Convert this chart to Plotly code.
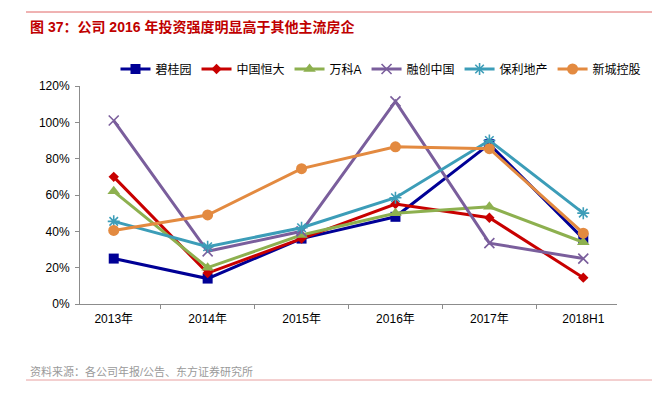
import plotly.graph_objects as go

categories = ["2013年", "2014年", "2015年", "2016年", "2017年", "2018H1"]
bgy = [0.25, 0.14, 0.36, 0.48, 0.88, 0.36]
evergrande = [0.70, 0.17, 0.36, 0.55, 0.475, 0.145]
vanke = [0.62, 0.20, 0.38, 0.50, 0.535, 0.34]
sunac = [1.01, 0.29, 0.40, 1.115, 0.335, 0.25]
poly = [0.455, 0.315, 0.42, 0.585, 0.90, 0.50]
seazen = [0.405, 0.49, 0.745, 0.865, 0.855, 0.39]
y_ticks = [0, 0.2, 0.4, 0.6, 0.8, 1.0, 1.2]

series = [
    ("碧桂园", bgy, "#000096", "square", 10, 0),
    ("中国恒大", evergrande, "#C80000", "diamond", 8, 0),
    ("万科A", vanke, "#8DB04F", "triangle-up", 11, 0),
    ("融创中国", sunac, "#7A5E9C", "x-thin-open", 10, 1.6),
    ("保利地产", poly, "#3C9DB8", "asterisk-open", 10, 1.6),
    ("新城控股", seazen, "#E38A40", "circle", 11, 0),
]

fig = go.Figure()
for name, vals, color, sym, size, lw in series:
    marker = dict(symbol=sym, size=size, color=color)
    if lw:
        marker["line"] = dict(color=color, width=lw)
    fig.add_trace(go.Scatter(
        x=categories, y=vals, name=name, mode="lines+markers",
        line=dict(color=color, width=3), marker=marker,
    ))

L, T, W, H = 80, 86, 537, 218
def px(x):
    return (x - L) / W
def py(y):
    return 1 - (y - T) / H

font_family = "Liberation Sans, Arial, Noto Sans CJK SC, sans-serif"
fig.update_layout(
    width=652, height=398,
    margin=dict(l=L, r=652 - L - W, t=T, b=398 - T - H, autoexpand=False),
    paper_bgcolor="white", plot_bgcolor="white",
    font=dict(family=font_family, size=12, color="#000000"),
    showlegend=True,
    legend=dict(orientation="h", x=px(381), xanchor="center", y=py(69), yanchor="middle",
                font=dict(size=12), itemwidth=30, tracegroupgap=0),
    xaxis=dict(showline=True, linecolor="#8c8c8c", linewidth=1,
               ticks="outside", ticklen=4, tickcolor="#8c8c8c",
               showgrid=False, tickson="boundaries", zeroline=False,
               ticklabelstandoff=4, tickfont=dict(size=12)),
    yaxis=dict(range=[0, 1.2], tickvals=y_ticks, tickformat=".0%",
               showline=True, linecolor="#8c8c8c", linewidth=1,
               ticks="outside", ticklen=4, tickcolor="#8c8c8c",
               showgrid=False, zeroline=False, ticklabelstandoff=3,
               tickfont=dict(size=12)),
    shapes=[
        dict(type="line", xref="paper", yref="paper", x0=px(26), x1=px(652),
             y0=py(12), y1=py(12), line=dict(color="#E06666", width=1)),
        dict(type="line", xref="paper", yref="paper", x0=px(26), x1=px(652),
             y0=py(380), y1=py(380), line=dict(color="#E8A0A0", width=1)),
    ],
    annotations=[
        dict(text="<b>图 37：公司 2016 年投资强度明显高于其他主流房企</b>", xref="paper", yref="paper",
             x=px(28), y=py(27), xanchor="left", yanchor="middle", showarrow=False,
             font=dict(size=14, color="#C00000", family=font_family)),
        dict(text="资料来源：各公司年报/公告、东方证券研究所", xref="paper", yref="paper",
             x=px(28), y=py(371), xanchor="left", yanchor="middle", showarrow=False,
             font=dict(size=11, color="#9a9a9a", family=font_family)),
    ],
)

fig.write_html("out.html", config={"displayModeBar": False},
               post_script="document.body.style.margin='0';document.body.style.overflow='hidden';")
